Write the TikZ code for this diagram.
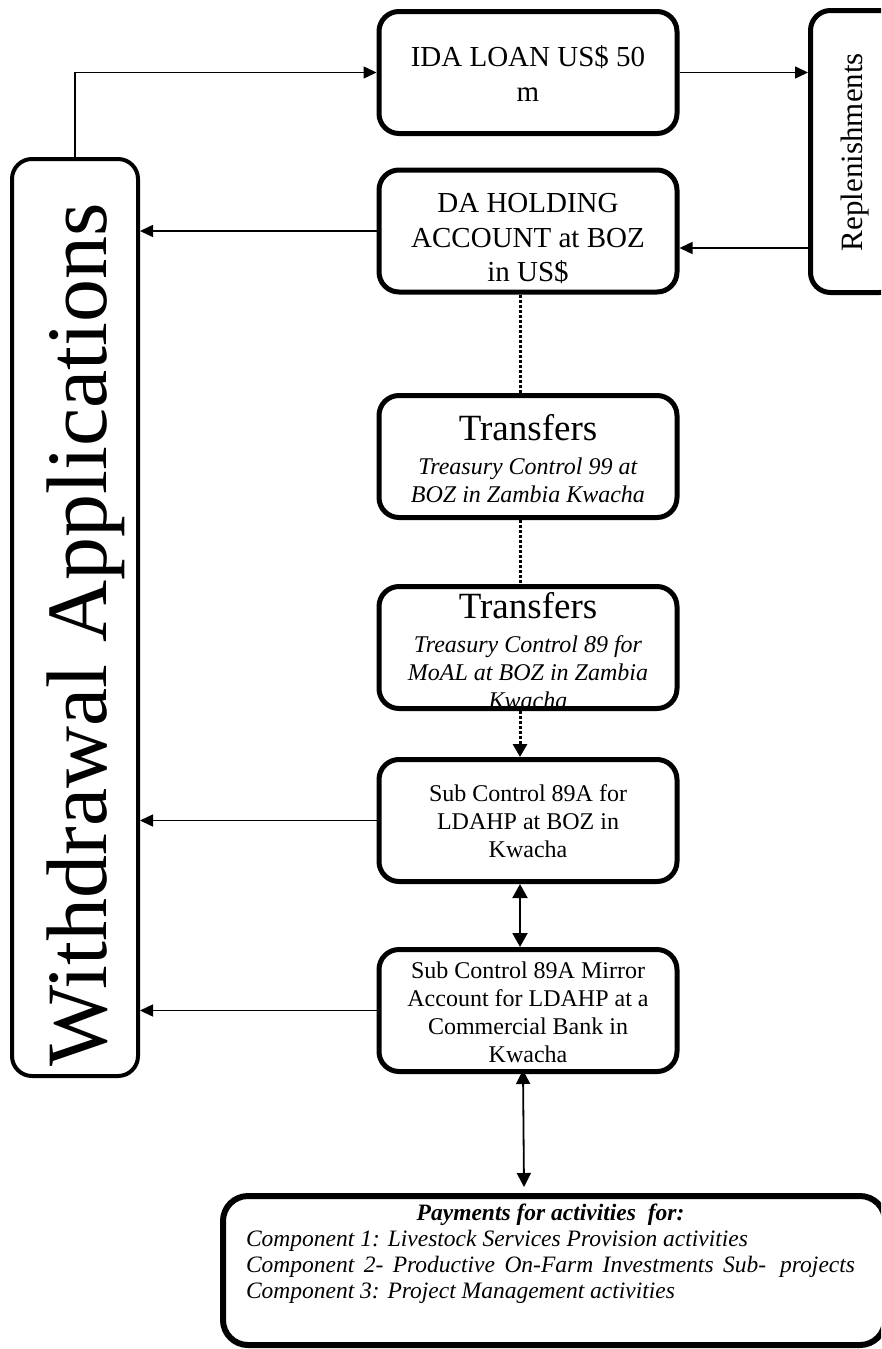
\documentclass[tikz,border=0pt]{standalone}
\usepackage{fontspec}
\setmainfont{Liberation Serif}
\usetikzlibrary{arrows.meta,calc}
\begin{document}
\begin{tikzpicture}[x=1pt,y=-1pt,
  box/.style={draw,line width=5pt,rounded corners=20pt,minimum width=298pt,minimum height=122pt,inner sep=0pt},
  txt/.style={align=center,inner sep=0pt},
  bigtxt/.style={txt,font=\fontsize{29}{34.5}\selectfont},
  smalltxt/.style={txt,font=\fontsize{24}{28}\selectfont},
  arr/.style={-{Triangle[length=13pt,width=12pt]},line width=1.5pt},
  dotline/.style={line width=3pt,dash pattern=on 3pt off 2pt},
  dbl/.style={{Triangle[length=14pt,width=15pt]}-{Triangle[length=14pt,width=15pt]},line width=2pt},
]
\useasboundingbox (0,0) rectangle (881,1349);
\clip (0,0) rectangle (881,1349);

% boxes
\node[box] (ida) at (528,72.5) {};
\node[bigtxt] (idat) at (528,73.5) {IDA LOAN US\$ 50\\m};
\node[box] (da) at (528,231) {};
\node[bigtxt] (dat) at (528,239) {DA HOLDING\\ACCOUNT at BOZ\\in US\$};
\node[box] (t1) at (528,456.5) {};
\node[smalltxt] (t1t) at (528,459) {{\fontsize{37}{40}\selectfont Transfers}\\[6pt]\textit{Treasury Control 99 at}\\\textit{BOZ in Zambia Kwacha}};
\node[box] (t2) at (528,647.5) {};
\node[smalltxt] (t2t) at (528,651) {{\fontsize{37}{40}\selectfont Transfers}\\[6pt]\textit{Treasury Control 89 for}\\\textit{MoAL at BOZ in Zambia}\\\textit{Kwacha}};
\node[box] (sub) at (528,820.5) {};
\node[smalltxt] (subt) at (528,821.5) {Sub Control 89A for\\LDAHP at BOZ in\\Kwacha};
\node[box] (mir) at (528,1010.5) {};
\node[smalltxt] (mirt) at (528,1012) {Sub Control 89A Mirror\\Account for LDAHP at a\\Commercial Bank in\\Kwacha};

\node[draw,line width=5pt,rounded corners=20pt,minimum width=89pt,minimum height=282pt,inner sep=0pt] (rep) at (855,151.5) {};
\node[inner sep=0pt,rotate=90,font=\fontsize{31}{34}\selectfont] (rept) at (855,152) {Replenishments};

\node[draw,line width=4pt,rounded corners=20pt,minimum width=126pt,minimum height=917pt,inner sep=0pt] (wd) at (75,617.5) {};
\node[inner sep=0pt,rotate=90,font=\fontsize{86}{90}\selectfont] (wdt) at (86,635) {Withdrawal Applications};

\node[draw,line width=6pt,rounded corners=25pt,minimum width=662pt,minimum height=149pt,inner sep=0pt] (pay) at (554,1270.5) {};
\node[inner sep=0pt,align=left,font=\fontsize{23.5}{26}\selectfont\itshape] (payt) at (550.5,1254) {%
\makebox[609pt][c]{\bfseries Payments for activities\ \ for:}\\
\makebox[502pt][s]{Component 1: Livestock Services Provision activities}\\
\makebox[609pt][s]{Component 2- Productive On-Farm Investments Sub-\hspace{14pt}projects}\\
\makebox[429pt][s]{Component 3: Project Management activities}};

% connectors
\draw[arr] (wd.north) |- (ida.west);
\draw[arr] (ida.east) -- (ida.east -| rep.west);
\coordinate (r2) at ($(da.east)+(0,17)$);
\draw[arr] (rep.west |- r2) -- (r2);
\draw[arr] (da.west) -- (da.west -| wd.east);
\draw[arr] (sub.west) -- (sub.west -| wd.east);
\draw[arr] (mir.west) -- (mir.west -| wd.east);

\draw[dotline] ($(da.south)+(-8,0)$) -- ($(t1.north)+(-8,0)$);
\draw[dotline] ($(t1.south)+(-8,0)$) -- ($(t2.north)+(-8,0)$);
\draw[dotline,-{Triangle[length=13pt,width=14pt]}] ($(t2.south)+(-8,0)$) -- ($(sub.north)+(-8,0)$);
\draw[dbl] ($(sub.south)+(-8,0)$) -- ($(mir.north)+(-8,0)$);
\draw[{Triangle[length=14pt,width=14pt]}-{Triangle[length=14pt,width=14pt]},line width=1.8pt] ($(mir.south)+(-5,-4)$) -- ($(pay.north)+(-30,-6)$);
\end{tikzpicture}
\end{document}
